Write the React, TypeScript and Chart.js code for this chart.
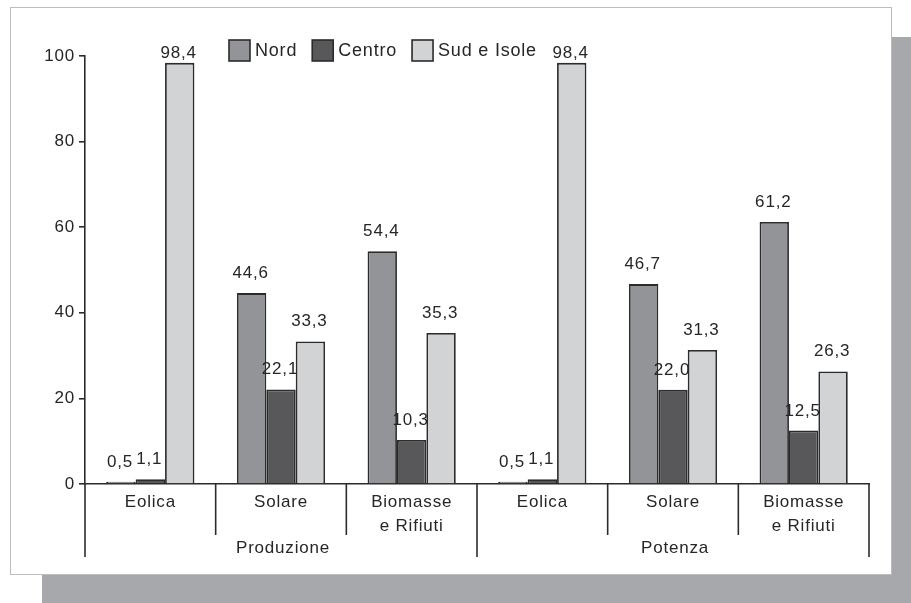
import React, { useEffect, useRef } from "react";
import { Chart, registerables } from "chart.js";

Chart.register(...registerables);

// Category labels (multi-line where needed) and their two groups
const categories: (string | string[])[] = [
  "Eolica",
  "Solare",
  ["Biomasse", "e Rifiuti"],
  "Eolica",
  "Solare",
  ["Biomasse", "e Rifiuti"],
];
const groupLabels = ["Produzione", "Potenza"];
const groupSize = 3;

// Shares by area (%)
const seriesNames = ["Nord", "Centro", "Sud e Isole"];
const nord = [0.5, 44.6, 54.4, 0.5, 46.7, 61.2];
const centro = [1.1, 22.1, 10.3, 1.1, 22.0, 12.5];
const sud = [98.4, 33.3, 35.3, 98.4, 31.3, 26.3];

const yMin = 0;
const yMax = 100;
const yStep = 20;

const fills = ["#939497", "#58585b", "#d2d3d5"];
const ink = "#2b2b2b";
const textColor = "#262626";
const fontFamily = "'Liberation Sans', Arial, Helvetica, sans-serif";

const fmt = (v: number) => v.toFixed(1).replace(".", ",");

const decorPlugin = {
  id: "decor",
  beforeDraw(chart: any) {
    chart.ctx.letterSpacing = "0.8px";
  },
  afterDatasetsDraw(chart: any) {
    const { ctx } = chart;
    ctx.save();
    ctx.letterSpacing = "0.8px";
    ctx.font = `17px ${fontFamily}`;
    ctx.fillStyle = textColor;
    ctx.textAlign = "center";
    ctx.textBaseline = "alphabetic";
    chart.data.datasets.forEach((ds: any, di: number) => {
      const meta = chart.getDatasetMeta(di);
      meta.data.forEach((bar: any, i: number) => {
        const v = ds.data[i] as number;
        const y = Math.max(bar.y - 15, 58);
        ctx.fillText(fmt(v), bar.x - 1, y);
      });
    });
    ctx.restore();
  },
  afterDraw(chart: any) {
    const { ctx, chartArea, scales } = chart;
    const x = scales.x;
    const n = categories.length;
    const axisY = chartArea.bottom;
    ctx.save();
    ctx.strokeStyle = ink;
    ctx.lineWidth = 1.6;
    // separators under the axis: short between categories, long between groups
    for (let i = 0; i <= n; i++) {
      let px: number;
      if (i === 0) px = chartArea.left;
      else if (i === n) px = chartArea.right;
      else px = (x.getPixelForValue(i - 1) + x.getPixelForValue(i)) / 2;
      const long = i % groupSize === 0;
      ctx.beginPath();
      ctx.moveTo(px, axisY);
      ctx.lineTo(px, axisY + (long ? 73 : 51));
      ctx.stroke();
    }
    // group titles
    ctx.letterSpacing = "0.8px";
    ctx.font = `17px ${fontFamily}`;
    ctx.fillStyle = textColor;
    ctx.textAlign = "center";
    ctx.textBaseline = "middle";
    groupLabels.forEach((g, gi) => {
      const mid = gi * groupSize + Math.floor(groupSize / 2);
      ctx.fillText(g, x.getPixelForValue(mid) + 2, axisY + 64);
    });
    // legend
    ctx.font = `18px ${fontFamily}`;
    ctx.textAlign = "left";
    let lx = 229;
    const boxTop = 40;
    const box = 21;
    seriesNames.forEach((name, si) => {
      ctx.fillStyle = fills[si];
      ctx.fillRect(lx, boxTop, box, box);
      ctx.strokeStyle = ink;
      ctx.lineWidth = 1.6;
      ctx.strokeRect(lx, boxTop, box, box);
      ctx.fillStyle = textColor;
      ctx.fillText(name, lx + box + 5, boxTop + box / 2 + 1);
      lx += box + 5 + ctx.measureText(name).width + 15;
    });
    ctx.restore();
  },
};

export default function App() {
  const ref = useRef<HTMLCanvasElement | null>(null);

  useEffect(() => {
    if (!ref.current) return;
    const chart = new Chart(ref.current, {
      type: "bar",
      data: {
        labels: categories as any,
        datasets: [nord, centro, sud].map((d, i) => ({
          label: seriesNames[i],
          data: d,
          backgroundColor: fills[i],
          borderColor: ink,
          borderWidth: 1.8,
          borderSkipped: "bottom",
          categoryPercentage: 0.675,
          barPercentage: 1.0,
        })),
      },
      options: {
        responsive: false,
        animation: false,
        layout: { padding: { left: 0, top: 56, right: 42, bottom: 0 } },
        plugins: {
          legend: { display: false },
          tooltip: { enabled: false },
        },
        scales: {
          x: {
            grid: { display: false },
            border: { display: true, color: ink, width: 1.6 },
            ticks: {
              color: textColor,
              font: { family: fontFamily, size: 17, lineHeight: 1.42 },
              padding: -2,
              maxRotation: 0,
              autoSkip: false,
            },
            afterFit(scale: any) {
              scale.height = 119;
              scale.paddingLeft = 0;
              scale.paddingRight = 0;
            },
          },
          y: {
            min: yMin,
            max: yMax,
            grid: {
              drawOnChartArea: false,
              drawTicks: true,
              tickLength: 6,
              color: ink,
              lineWidth: 1.6,
            },
            border: { display: true, color: ink, width: 1.6 },
            ticks: {
              stepSize: yStep,
              color: textColor,
              font: { family: fontFamily, size: 17 },
              padding: 4,
            },
            afterFit(scale: any) {
              scale.width = 85;
              scale.paddingTop = 0;
              scale.paddingBottom = 0;
            },
          },
        },
      },
      plugins: [decorPlugin],
    });
    return () => chart.destroy();
  }, []);

  return (
    <div
      style={{
        position: "fixed",
        left: 0,
        top: 0,
        width: 911,
        height: 603,
        background: "#ffffff",
        overflow: "hidden",
      }}
    >
      <div
        style={{
          position: "absolute",
          left: 42,
          top: 37,
          width: 869,
          height: 566,
          background: "#a7a8ab",
        }}
      />
      <div
        style={{
          position: "absolute",
          left: 10,
          top: 7,
          width: 880,
          height: 566,
          background: "#ffffff",
          border: "1.5px solid #bdbdbd",
        }}
      />
      <canvas
        ref={ref}
        width={911}
        height={603}
        style={{ position: "absolute", left: 0, top: 0, width: 911, height: 603 }}
      />
    </div>
  );
}
